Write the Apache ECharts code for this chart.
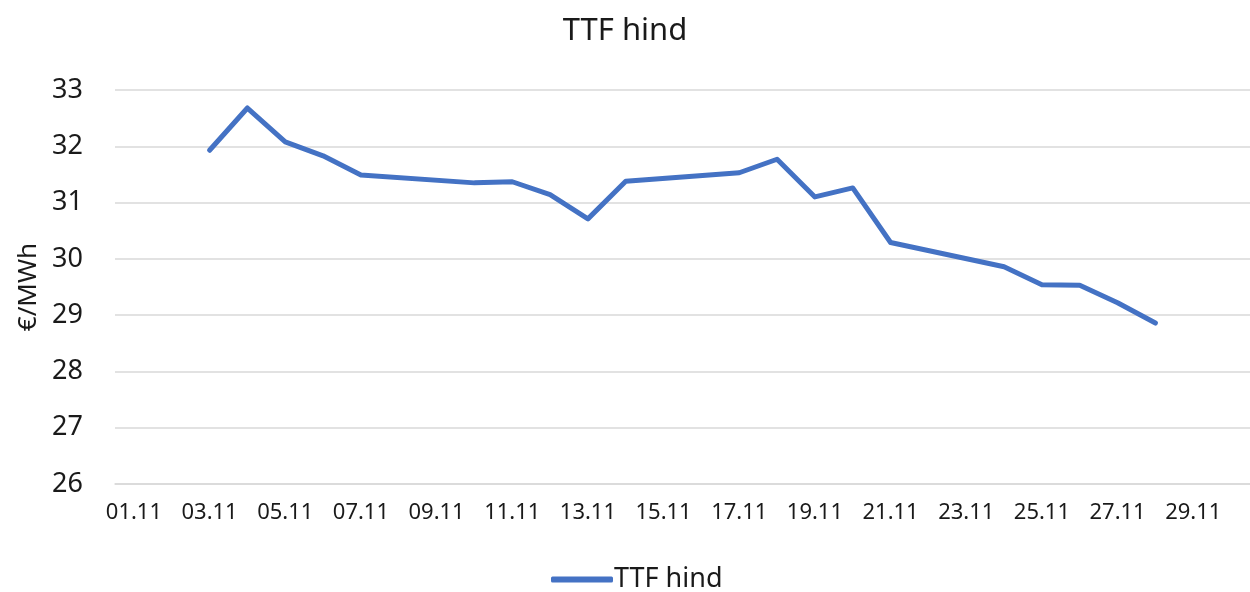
<!DOCTYPE html>
<html>
<head>
<meta charset="utf-8">
<script src="https://cdn.jsdelivr.net/npm/echarts@6/dist/echarts.min.js"></script>
<style>
  html, body { margin: 0; padding: 0; background: #fff; }
  #chart { width: 1250px; height: 592px; }
</style>
</head>
<body>
<div id="chart"></div>
<script>
// days of November
var days = ['01.11','02.11','03.11','04.11','05.11','06.11','07.11','08.11','09.11','10.11',
            '11.11','12.11','13.11','14.11','15.11','16.11','17.11','18.11','19.11','20.11',
            '21.11','22.11','23.11','24.11','25.11','26.11','27.11','28.11','29.11','30.11'];

// TTF price, €/MWh (weekends empty)
var ttfPrice = [null, null, 31.93, 32.68, 32.08, 31.83, 31.49, null, null, 31.35,
                31.37, 31.14, 30.71, 31.38, null, null, 31.53, 31.77, 31.10, 31.26,
                30.29, null, null, 29.86, 29.54, 29.53, 29.22, 28.86, null, null];

var yTicks = { min: 26, max: 33, step: 1 };

function GenerateChart() {
	var chart = echarts.init(document.getElementById('chart'), null, {renderer: 'canvas'});
	var font = '"Noto Sans", "Open Sans", sans-serif';
	var grey = '#d9d9d9';

	chart.setOption({
		animation: false,
		title: {
			text: 'TTF hind',
			left: 'center',
			top: 11,
			textStyle: { fontFamily: font, fontSize: 31, fontWeight: 'normal', color: '#1a1a1a' }
		},
		legend: {
			bottom: -6,
			left: 546,
			itemWidth: 62,
			itemHeight: 6,
			itemGap: 4,
			icon: 'roundRect',
			textStyle: { fontFamily: font, fontSize: 27, color: '#1a1a1a', padding: [0, 0, 0, -4] },
			data: ['TTF hind']
		},
		grid: { left: 115, right: -6, top: 90, bottom: 108 },
		xAxis: {
			type: 'category',
			data: days,
			boundaryGap: true,
			axisLine: { lineStyle: { color: grey, width: 1.5 } },
			axisTick: { interval: 0, length: 8, lineStyle: { color: grey, width: 1.5 } },
			axisLabel: { interval: 1, fontFamily: font, fontSize: 22, color: '#1a1a1a', margin: 18 }
		},
		yAxis: {
			type: 'value',
			min: yTicks.min,
			max: yTicks.max,
			interval: yTicks.step,
			name: '€/MWh',
			nameLocation: 'middle',
			nameGap: 70,
			nameRotate: 90,
			nameTextStyle: { fontFamily: font, fontSize: 26, color: '#1a1a1a' },
			axisLine: { show: false },
			axisTick: { show: false },
			axisLabel: { fontFamily: font, fontSize: 27, color: '#1a1a1a', margin: 32 },
			splitLine: { lineStyle: { color: grey, width: 1.5 } }
		},
		series: [{
			name: 'TTF hind',
			type: 'line',
			data: ttfPrice,
			connectNulls: true,
			showSymbol: false,
			symbol: 'none',
			itemStyle: { color: '#4472c4' },
			lineStyle: { color: '#4472c4', width: 5, cap: 'round', join: 'round' }
		}]
	});
}

GenerateChart();
</script>
</body>
</html>
